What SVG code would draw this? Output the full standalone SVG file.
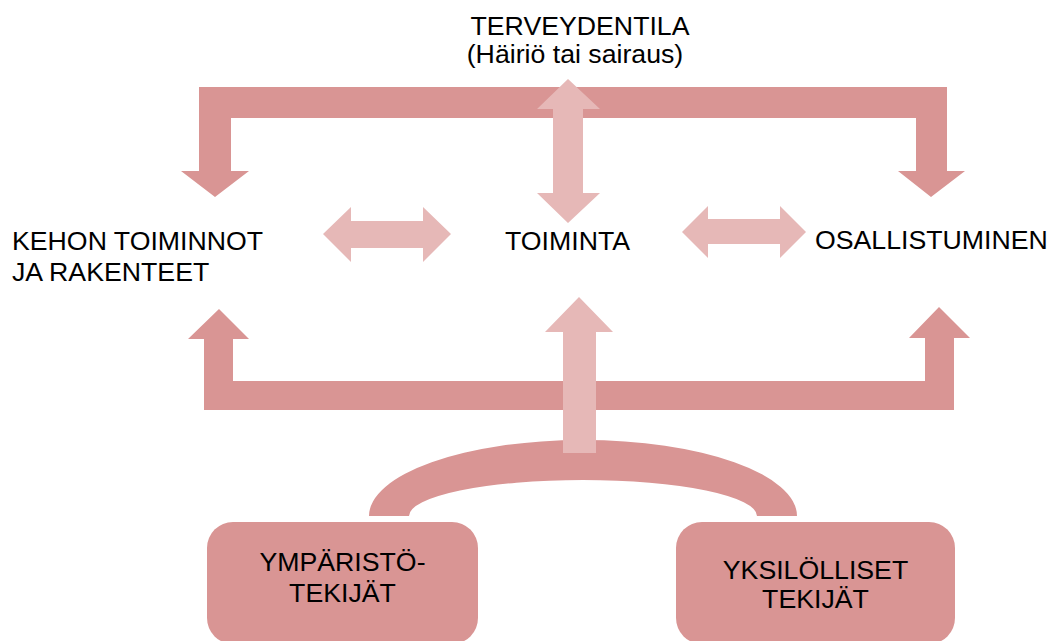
<svg xmlns="http://www.w3.org/2000/svg" width="1050" height="641" viewBox="0 0 1050 641">
  <style>
    .dark { fill: #D99594; }
    .light { fill: #E6B8B7; }
    .lbl { font-family: "Liberation Sans", Arial, sans-serif; font-size: 26.7px; fill: #000; }
    .mid { text-anchor: middle; }
  </style>
  <rect width="1050" height="641" fill="#fff"/>

  <g id="connectors">
    <!-- top bracket: health condition down to body functions and participation -->
    <path class="dark" d="M199 87 H947 V171 H965 L931 197 L898 171 H916 V118 H231 V171 H249 L215 197 L181 171 H199 Z"/>
    <!-- bottom bracket: contextual factors up to body functions and participation -->
    <path class="dark" d="M204 410 H954 V338 H970 L939 307 L909 338 H925 V381 H233 V339 H249 L219 309 L188 339 H204 Z"/>
    <!-- arc joining the two factor boxes -->
    <path class="dark" d="M369 516 A214 76 0 0 1 797 516 L757 516 A174 36 0 0 0 409 516 Z"/>
    <!-- vertical double arrow: health condition <-> activity -->
    <path class="light" d="M568 79 L600 109 H583 V193 H600 L568 223 L537 193 H553 V109 H537 Z"/>
    <!-- arrow from the arc up to activity -->
    <path class="light" d="M579 297 L613 332 H596 V453 H563 V332 H545 Z"/>
    <!-- horizontal double arrows -->
    <path class="light" d="M323 234 L351 207 V221 H423 V207 L451 234 L423 262 V248 H351 V262 Z"/>
    <path class="light" d="M682 232 L708 206 V219 H780 V206 L806 232 L780 258 V244 H708 V258 Z"/>
  </g>

  <g id="terveydentila">
    <text class="lbl mid" x="580" y="35">TERVEYDENTILA</text>
    <text class="lbl mid" x="575" y="63">(Häiriö tai sairaus)</text>
  </g>

  <g id="kehon-toiminnot">
    <text class="lbl" x="12" y="250">KEHON TOIMINNOT</text>
    <text class="lbl" x="12" y="281">JA RAKENTEET</text>
  </g>

  <g id="toiminta">
    <text class="lbl" x="505" y="250">TOIMINTA</text>
  </g>

  <g id="osallistuminen">
    <text class="lbl" x="815" y="249">OSALLISTUMINEN</text>
  </g>

  <g id="ymparistotekijat">
    <rect class="dark" x="207" y="522" width="271" height="122" rx="26"/>
    <text class="lbl mid" x="342.5" y="571">YMPÄRISTÖ-</text>
    <text class="lbl mid" x="342.5" y="602">TEKIJÄT</text>
  </g>

  <g id="yksilolliset-tekijat">
    <rect class="dark" x="676" y="522" width="279" height="122" rx="26"/>
    <text class="lbl mid" x="815.5" y="579">YKSILÖLLISET</text>
    <text class="lbl mid" x="815.5" y="608">TEKIJÄT</text>
  </g>
</svg>
